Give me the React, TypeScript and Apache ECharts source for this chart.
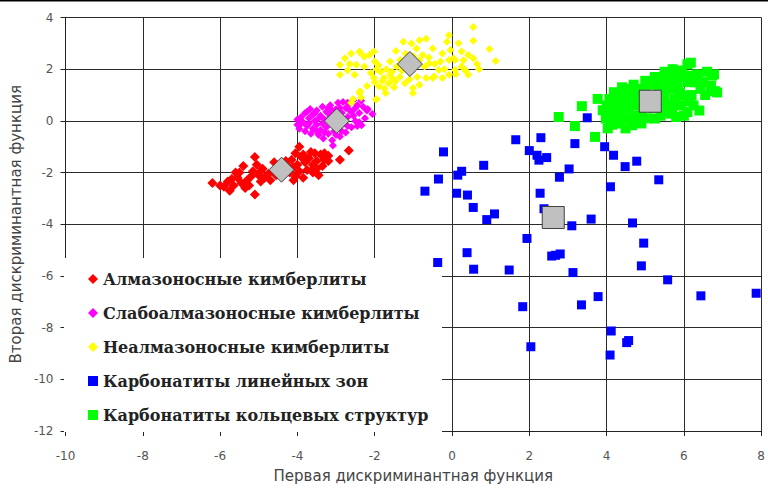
import React, { useEffect, useRef } from "react";
import * as echarts from "echarts";

const X_TICKS = [-10, -8, -6, -4, -2, 0, 2, 4, 6, 8];
const Y_TICKS = [-12, -10, -8, -6, -4, -2, 0, 2, 4];

const SERIES_NAMES = [
  "Алмазоносные кимберлиты",
  "Слабоалмазоносные кимберлиты",
  "Неалмазоносные кимберлиты",
  "Карбонатиты линейных зон",
  "Карбонатиты кольцевых структур",
];

const almaz: number[][] = [
  [-6.2, -2.4], [-5.9, -2.55], [-5.75, -2.7], [-5.65, -2.5], [-5.6, -2.0], [-5.55, -2.2],
  [-5.45, -2.4], [-5.35, -2.6], [-5.1, -2.85], [-5.2, -2.15], [-5.1, -1.4], [-5.05, -1.7],
  [-4.95, -1.95], [-4.85, -2.2], [-4.75, -2.05], [-4.9, -1.85], [-4.7, -2.3], [-5.3, -2.3],
  [-5.8, -2.35], [-6.0, -2.5], [-5.5, -2.0], [-4.6, -1.6], [-4.15, -1.5], [-4.05, -1.25],
  [-3.95, -1.0], [-3.85, -1.3], [-3.8, -1.6], [-3.95, -1.95], [-3.85, -2.2], [-4.05, -2.15],
  [-3.65, -1.2], [-3.55, -1.25], [-3.4, -1.3], [-3.5, -1.85], [-3.45, -2.1], [-2.9, -1.5],
  [-2.67, -1.15], [-4.2, -2.0], [-4.0, -1.7], [-3.7, -1.45], [-3.6, -1.7], [-3.3, -1.5],
  [-3.2, -1.35], [-3.9, -1.4], [-4.1, -1.8], [-4.25, -1.75], [-3.75, -1.9], [-3.6, -2.0],
  [-4.1, -2.3], [-3.5, -1.55], [-3.3, -1.25], [-3.2, -1.55], [-4.3, -1.55], [-5.25, -2.5],
  [-5.0, -2.1], [-5.4, -1.75], [-5.7, -2.25], [-4.55, -2.1], [-4.95, -2.35], [-5.15, -1.95],
  [-3.35, -1.75], [-3.62, -1.9],
];

const slaboalmaz: number[][] = [
  [-4.0, 0.05], [-4.0, -0.15], [-3.95, -0.3], [-3.9, 0.15], [-3.85, -0.05], [-3.8, 0.3],
  [-3.8, -0.4], [-3.75, -0.2], [-3.7, 0.1], [-3.67, 0.46], [-3.65, -0.5], [-3.6, -0.3],
  [-3.6, 0.25], [-3.55, 0.0], [-3.5, 0.4], [-3.5, -0.15], [-3.45, -0.55], [-3.4, 0.2],
  [-3.4, -0.35], [-3.35, 0.55], [-3.33, -0.68], [-3.3, 0.05], [-3.25, 0.35], [-3.25, -0.25],
  [-3.2, -0.5], [-3.15, 0.6], [-3.15, 0.15], [-3.1, -0.75], [-3.08, -0.95], [-3.05, -0.4],
  [-3.0, 0.45], [-2.95, 0.7], [-2.95, -0.25], [-2.9, -0.6], [-2.85, 0.3], [-2.82, 0.73],
  [-2.8, -0.1], [-2.75, 0.5], [-2.75, -0.45], [-2.7, 0.15], [-2.65, 0.65], [-2.6, -0.25],
  [-2.6, 0.35], [-2.55, 0.8], [-2.5, 0.0], [-2.5, 0.5], [-2.45, -0.2], [-2.4, 0.3],
  [-2.35, 0.78], [-2.34, -0.17], [-2.3, 0.55], [-2.25, 0.1], [-2.2, 0.4], [-2.18, 0.46],
  [-2.06, 0.27], [-3.55, 0.3], [-3.7, -0.1], [-3.45, 0.1], [-3.35, -0.1], [-3.2, 0.3],
  [-2.9, 0.1], [-2.7, -0.2], [-2.65, 0.4], [-2.45, 0.6], [-2.9, 0.5], [-3.1, 0.4],
  [-3.3, -0.45], [-3.0, -0.55], [-2.85, -0.4], [-3.9, -0.1], [-3.75, 0.35], [-2.55, 0.2],
  [-2.4, -0.05], [-3.5, -0.4], [-3.2, 0.5], [-2.7, 0.7],
];

const nealmaz: number[][] = [
  [0.55, 3.63], [0.55, 3.1], [0.97, 2.78], [1.13, 2.32], [0.42, 2.55], [0.55, 2.42],
  [-0.08, 3.31], [-0.13, 3.06], [0.17, 3.0], [-0.04, 2.74], [0.04, 2.42], [-0.25, 2.61],
  [-0.5, 2.8], [-0.67, 3.18], [-0.84, 3.12], [-1.05, 2.99], [-1.26, 3.06], [-0.92, 2.8],
  [-0.76, 2.55], [-0.59, 2.23], [-0.71, 2.1], [-0.5, 1.66], [-0.25, 1.66], [-0.08, 1.78],
  [0.08, 1.97], [0.25, 2.1], [0.42, 1.78], [-0.34, 1.97], [-1.34, 2.36], [-1.43, 2.1],
  [-1.6, 1.78], [-1.47, 1.53], [-1.22, 1.46], [-1.01, 1.27], [-1.01, 1.08], [-0.84, 1.4],
  [-1.72, 1.08], [-1.89, 1.34], [-2.02, 1.66], [-2.1, 1.85], [-2.27, 2.1], [-1.97, 0.83],
  [-2.39, 1.08], [-2.61, 0.7], [-2.14, 2.55], [-2.39, 2.68], [-2.61, 2.61], [-2.77, 2.42],
  [-2.9, 2.17], [-2.9, 1.78], [-2.52, 1.78], [-2.48, 2.17], [-2.27, 2.48], [-2.02, 2.68],
  [-1.76, 1.66], [-1.64, 1.46], [-0.67, 1.66], [-0.46, 1.72], [0.08, 2.36], [0.25, 2.68],
  [-0.08, 2.36], [-1.95, 2.0], [-1.85, 1.9], [-1.7, 2.0], [-1.55, 1.9], [-1.8, 1.55],
  [-1.55, 1.65], [-1.35, 1.7], [-1.3, 1.95], [-1.2, 2.6], [-1.45, 2.7], [-1.0, 2.5],
  [-0.85, 2.35], [-0.6, 2.45], [-0.45, 2.2], [-0.3, 2.3], [-0.2, 2.0], [0.3, 2.35],
  [0.65, 2.2], [0.7, 2.0], [-2.0, 1.5], [-2.2, 1.35], [-2.35, 0.9], [-2.56, 0.84],
  [-1.95, 0.84], [-2.38, 1.15], [-2.38, 2.64], [-2.0, 2.3], [-1.9, 2.15], [-1.6, 2.3],
  [-0.9, 1.7], [-1.1, 1.6], [-2.65, 2.2], [-2.7, 1.95], [-1.75, 1.25], [-1.5, 1.3],
  [0.1, 1.8], [0.35, 1.95],
];

const karbLin: number[][] = [
  [-0.22, -1.2], [-0.35, -2.25], [-0.7, -2.72], [0.25, -1.95], [0.15, -2.1], [0.12, -2.8],
  [0.4, -2.87], [0.82, -1.72], [0.55, -3.35], [0.9, -3.82], [1.1, -3.6], [1.65, -0.73],
  [2.3, -0.65], [2.0, -1.15], [2.2, -1.33], [2.45, -1.42], [2.25, -1.52], [2.28, -2.8],
  [2.38, -3.4], [2.78, -2.18], [3.03, -1.86], [3.18, -0.88], [3.5, 0.12], [3.95, -1.0],
  [4.18, -1.33], [4.48, -1.77], [4.78, -1.56], [5.35, -2.28], [4.1, -2.55], [3.1, -4.06],
  [3.6, -3.8], [4.67, -3.95], [1.94, -4.55], [4.96, -4.73], [0.39, -5.1], [-0.37, -5.48],
  [0.56, -5.74], [1.48, -5.77], [2.58, -5.23], [2.8, -5.15], [3.13, -5.87], [4.9, -5.61],
  [5.58, -6.15], [6.44, -6.77], [7.87, -6.67], [3.78, -6.8], [3.35, -7.12], [1.83, -7.19],
  [4.12, -8.13], [4.57, -8.5], [4.52, -8.58], [4.09, -9.06], [2.04, -8.74], [2.68, -5.2],
];

const karbKol: number[][] = [
  [2.76, 0.15], [3.18, -0.2], [3.36, 0.57], [3.7, -0.62], [3.77, 0.85],
  [4.03, -0.29], [3.98, 0.09], [4.15, 0.34], [4.24, 0.73], [4.41, 1.11], [4.57, 1.24],
  [4.66, 0.85], [4.57, 0.47], [4.41, 0.15], [4.24, -0.04], [4.83, -0.04], [4.91, 0.34],
  [5.25, 1.49], [5.42, 1.11], [5.59, 1.75], [5.71, 2.0], [6.09, 2.19], [6.18, 1.75],
  [6.3, 1.49], [6.73, 1.75], [6.8, 1.15], [6.43, 1.24], [5.67, 1.24], [5.76, 0.85],
  [5.92, 0.6], [6.09, 0.34], [5.67, 0.28], [5.42, 0.34], [5.25, 0.09], [5.54, 0.6],
  [6.0, 0.98], [5.84, 1.43], [6.0, 1.75], [4.66, -0.17], [4.49, -0.29], [4.32, 0.6],
  [3.9, 0.41], [4.07, 0.85], [4.19, 1.11], [4.83, 1.24], [6.18, 2.25], [6.86, 1.1],
  [6.78, 1.8], [4.1, 0.2], [4.3, 0.3], [4.45, 0.8], [4.5, 0.5], [4.7, 0.6], [4.75, 1.0],
  [4.8, 0.2], [4.95, 0.9], [5.0, 1.2], [5.1, 1.4], [5.2, 0.5], [5.3, 0.8], [5.35, 1.3],
  [5.45, 1.6], [5.5, 0.9], [5.6, 1.4], [5.8, 1.7], [5.9, 1.1], [5.95, 1.95], [6.1, 1.5],
  [6.2, 1.0], [6.25, 0.6], [6.35, 1.8], [6.5, 1.5], [6.55, 1.0], [5.7, 0.5], [5.4, 0.2],
  [5.05, 0.1], [4.9, -0.1], [4.6, 0.1], [4.35, -0.1], [4.15, -0.15], [4.2, 0.5], [4.0, 0.6],
  [4.6, 1.05], [4.4, 1.3], [4.7, 1.4], [5.0, 1.55], [5.25, 1.7], [5.5, 1.9], [6.0, 0.2],
  [6.4, 0.4], [6.15, 0.75], [5.8, 0.15], [4.85, 0.65], [6.6, 1.9], [6.7, 1.35],
];

const centroidsKimb: number[][] = [[-4.41, -1.89], [-2.98, 0.0], [-1.09, 2.2]];
const centroidsKarb: number[][] = [[2.62, -3.74], [5.13, 0.76]];

const COLORS = ["#ff0000", "#ff00ff", "#ffff00", "#0000ff", "#00ff00"];

export default function App() {
  const ref = useRef<HTMLDivElement>(null);
  useEffect(() => {
    if (!ref.current) return;
    const chart = echarts.init(ref.current, undefined, { renderer: "svg" });
    const axisCommon = {
      type: "value" as const,
      axisLine: { show: true, onZero: false, lineStyle: { color: "#222", width: 1 } },
      axisTick: { show: true, length: 5, lineStyle: { color: "#222" } },
      splitLine: { show: true, lineStyle: { color: "#2a2a2a", width: 1 } },
      nameLocation: "middle" as const,
      nameTextStyle: { fontFamily: "DejaVu Sans", fontSize: 15, color: "#444" },
    };
    const sizes = [10, 8, 8, 9, 10];
    const symbols = ["diamond", "diamond", "diamond", "rect", "rect"];
    const datas = [almaz, slaboalmaz, nealmaz, karbLin, karbKol];
    chart.setOption({
      animation: false,
      backgroundColor: "#fff",
      grid: { left: 63, right: 3, top: 17.5, bottom: 51.5 },
      xAxis: {
        ...axisCommon,
        min: X_TICKS[0],
        max: X_TICKS[X_TICKS.length - 1],
        interval: X_TICKS[1] - X_TICKS[0],
        name: "Первая дискриминантная функция",
        nameGap: 37,
        axisLabel: { margin: 19, color: "#555", fontFamily: "DejaVu Sans", fontSize: 12 },
      },
      yAxis: {
        ...axisCommon,
        min: Y_TICKS[0],
        max: Y_TICKS[Y_TICKS.length - 1],
        interval: Y_TICKS[1] - Y_TICKS[0],
        name: "Вторая дискриминантная функция",
        nameGap: 38,
        axisLabel: { margin: 12, color: "#555", fontFamily: "DejaVu Sans", fontSize: 12 },
      },
      legend: {
        orient: "vertical",
        left: 63,
        top: 258,
        padding: [12, 20, 8, 25],
        itemWidth: 10,
        itemHeight: 10,
        itemGap: 16,
        selectedMode: false,
        textStyle: {
          fontFamily: "DejaVu Serif",
          fontWeight: "bold",
          fontSize: 16,
          color: "#222",
          lineHeight: 18,
        },
        data: SERIES_NAMES.map((n, i) => ({ name: n, icon: symbols[i] })),
      },
      graphic: [
        { type: "rect", z: 1, shape: { x: 64, y: 258, width: 378, height: 174 }, style: { fill: "#fff" } },
        { type: "rect", z: 10, shape: { x: 0, y: 0, width: 768, height: 1.5 }, style: { fill: "#000" } },
      ],
      series: [
        ...SERIES_NAMES.map((n, i) => ({
          name: n,
          type: "scatter",
          symbol: symbols[i],
          symbolSize: sizes[i],
          itemStyle: { color: COLORS[i], opacity: 1 },
          data: datas[i],
          z: 2,
        })),
        {
          name: "centroidsKimb",
          type: "scatter",
          symbol: "diamond",
          symbolSize: 25,
          itemStyle: { color: "#c0c0c0", borderColor: "#404040", borderWidth: 1, opacity: 1 },
          data: centroidsKimb,
          z: 3,
        },
        {
          name: "centroidsKarb",
          type: "scatter",
          symbol: "rect",
          symbolSize: 22,
          itemStyle: { color: "#c0c0c0", borderColor: "#404040", borderWidth: 1, opacity: 1 },
          data: centroidsKarb,
          z: 3,
        },
      ],
    });
    return () => chart.dispose();
  }, []);
  return (
    <div
      ref={ref}
      style={{ position: "fixed", left: 0, top: 0, width: 768, height: 488, background: "#fff" }}
    />
  );
}
